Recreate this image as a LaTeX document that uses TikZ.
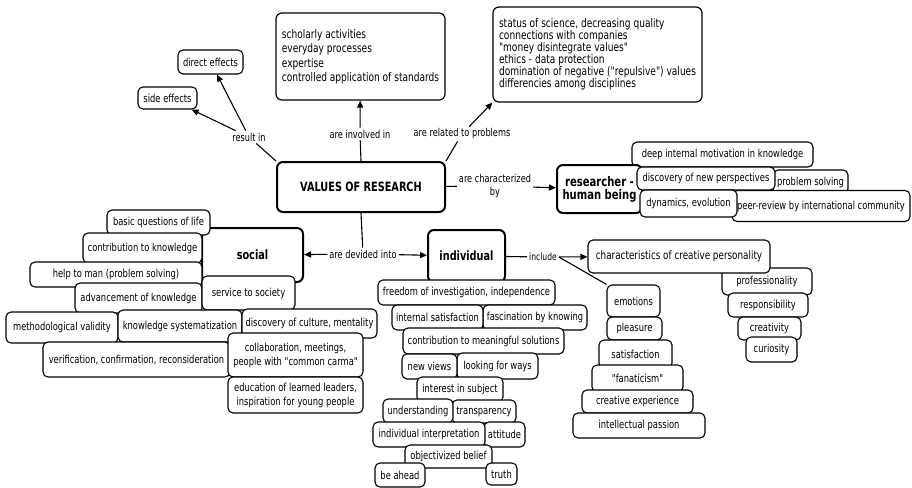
\documentclass[tikz,border=0pt]{standalone}
\usepackage{fontspec}
\newfontfamily\mf{DejaVu Sans}[FakeStretch=0.76]
\usetikzlibrary{arrows.meta}
\begin{document}
\begin{tikzpicture}[x=1pt,y=-1pt,
  bx/.style={draw, rounded corners=5pt, fill=white, line width=1.1pt, inner sep=0pt, align=center,
    font=\mf\fontsize{11}{13}\selectfont},
  tbx/.style={draw, rounded corners=6pt, fill=white, line width=1.2pt, inner sep=0pt, align=left,
    font=\mf\fontsize{11.9}{14.5}\selectfont},
  big/.style={draw, rounded corners=6pt, fill=white, line width=2pt, inner sep=0pt, align=center,
    font=\mf\bfseries\fontsize{12.8}{13}\selectfont},
  lbl/.style={inner sep=2pt, align=center, font=\mf\fontsize{10.8}{12.7}\selectfont},
  con/.style={line width=1.1pt},
  arr/.style={line width=1.1pt, -{Triangle[length=7pt,width=6pt]}}
]
\useasboundingbox (0,0) rectangle (912,487);

% top left
\node[bx, minimum width=65pt, minimum height=24pt] (direct) at (210.5,62) {direct effects};
\node[bx, minimum width=59pt, minimum height=22pt] (side) at (167.5,98) {side effects};

% top boxes
\node[tbx, minimum width=169pt, minimum height=87pt] (top1) at (360.5,56.5)
  {scholarly activities\\everyday processes\\expertise\\controlled application of standards};
\node[tbx, minimum width=209pt, minimum height=95pt, font=\mf\fontsize{11.9}{12}\selectfont] (top2) at (597.5,54.5)
  {status of science, decreasing quality\\connections with companies\\"money disintegrate values"\\ethics - data protection\\domination of negative ("repulsive") values\\differencies among disciplines};

% main
\node[big, minimum width=168pt, minimum height=50pt] (main) at (361,187) {VALUES OF RESEARCH};

% researcher group
\node[bx, minimum width=181pt, minimum height=25pt] (deep) at (722.5,154.5) {deep internal motivation in knowledge};
\node[big, minimum width=85pt, minimum height=48pt, font=\mf\bfseries\fontsize{13.2}{13}\selectfont] (res) at (599.5,189) {researcher -\\human being};
\node[bx, minimum width=75pt, minimum height=24pt] (prob) at (810.5,182) {problem solving};
\node[bx, minimum width=178pt, minimum height=31pt] (peer) at (821,206) {peer-review by international community};
\node[bx, minimum width=138pt, minimum height=23pt] (disc) at (706,178.5) {discovery of new perspectives};
\node[bx, minimum width=97pt, minimum height=27pt] (dyn) at (688.5,203.5) {dynamics, evolution};

% social group
\node[big, minimum width=101pt, minimum height=54pt] (social) at (252.5,255) {social};
\node[bx, minimum width=103pt, minimum height=25pt] (basic) at (158.5,222.5) {basic questions of life};
\node[bx, minimum width=119pt, minimum height=30pt] (contrib) at (142.5,248) {contribution to knowledge};
\node[bx, minimum width=172pt, minimum height=25pt] (help) at (116,274.5) {help to man (problem solving)};
\node[bx, minimum width=127pt, minimum height=30pt] (adv) at (138.5,298) {advancement of knowledge};
\node[bx, minimum width=93pt, minimum height=34pt] (service) at (248.5,293) {service to society};
\node[bx, minimum width=112pt, minimum height=31pt] (meth) at (62,327.5) {methodological validity};
\node[bx, minimum width=124pt, minimum height=32pt] (ksys) at (180,326) {knowledge systematization};
\node[bx, minimum width=135pt, minimum height=29pt] (cult) at (309.5,323.5) {discovery of culture, mentality};
\node[bx, minimum width=187pt, minimum height=35pt] (verif) at (136.5,359.5) {verification, confirmation, reconsideration};
\node[bx, minimum width=135pt, minimum height=44pt, font=\mf\fontsize{11}{14}\selectfont] (collab) at (295.5,355) {collaboration, meetings,\\people with "common carma"};
\node[bx, minimum width=135pt, minimum height=36pt, font=\mf\fontsize{11}{14}\selectfont] (edu) at (295.5,395) {education of learned leaders,\\inspiration for young people};

% individual group
\node[big, minimum width=77pt, minimum height=52pt] (indiv) at (466.5,256) {individual};
\node[bx, minimum width=177pt, minimum height=25pt] (free) at (466.5,292.5) {freedom of investigation, independence};
\node[bx, minimum width=104pt, minimum height=25pt] (fasc) at (535,317.5) {fascination by knowing};
\node[bx, minimum width=91pt, minimum height=25pt] (intsat) at (437.5,317.5) {internal satisfaction};
\node[bx, minimum width=161pt, minimum height=26pt] (contr) at (483.5,341) {contribution to meaningful solutions};
\node[bx, minimum width=81pt, minimum height=26pt] (look) at (497.5,366) {looking for ways};
\node[bx, minimum width=55pt, minimum height=25pt] (newv) at (429.5,366.5) {new views};
\node[bx, minimum width=86pt, minimum height=25pt] (inter) at (460,389.5) {interest in subject};
\node[bx, minimum width=64pt, minimum height=23pt] (transp) at (484,411.5) {transparency};
\node[bx, minimum width=70pt, minimum height=24pt] (under) at (418,411) {understanding};
\node[bx, minimum width=41pt, minimum height=25pt] (att) at (504.5,434.5) {attitude};
\node[bx, minimum width=112pt, minimum height=25pt] (indint) at (429,434.5) {individual interpretation};
\node[bx, minimum width=87pt, minimum height=23pt] (obj) at (448.5,456.5) {objectivized belief};
\node[bx, minimum width=50pt, minimum height=24pt] (ahead) at (400,475) {be ahead};
\node[bx, minimum width=31pt, minimum height=22pt] (truth) at (501.5,474) {truth};

% emotions column
\node[bx, minimum width=90pt, minimum height=27pt] (prof) at (767,281.5) {professionality};
\node[bx, minimum width=182pt, minimum height=33pt, font=\mf\fontsize{11.6}{13}\selectfont] (charac) at (679,256.5) {characteristics of creative personality};
\node[bx, minimum width=80pt, minimum height=24pt] (resp) at (768,305) {responsibility};
\node[bx, minimum width=63pt, minimum height=23pt] (creat) at (769.5,328.5) {creativity};
\node[bx, minimum width=51pt, minimum height=25pt] (curio) at (771.5,349.5) {curiosity};

\node[bx, minimum width=53pt, minimum height=32pt] (emot) at (633.5,301) {emotions};
\node[bx, minimum width=55pt, minimum height=23pt] (pleas) at (634.5,328.5) {pleasure};
\node[bx, minimum width=73pt, minimum height=28pt] (satis) at (635.5,354) {satisfaction};
\node[bx, minimum width=91pt, minimum height=27pt] (fanat) at (637.5,378.5) {"fanaticism"};
\node[bx, minimum width=111pt, minimum height=23pt] (creexp) at (637.5,401.5) {creative experience};
\node[bx, minimum width=132pt, minimum height=25pt] (intpas) at (639,425.5) {intellectual passion};

% linking phrases
\node[lbl] (resultin) at (249,137) {result in};
\node[lbl] (inv) at (360,134) {are involved in};
\node[lbl] (rel) at (462,134) {are related to problems};
\node[lbl] (charby) at (495,186) {are characterized\\by};
\node[lbl] (div) at (363,254) {are devided into};
\node[lbl, font=\mf\fontsize{10}{11}\selectfont] (inc) at (543,257) {include};

% connectors
\draw[con] (main.north west) -- (resultin);
\draw[arr] (resultin) -- (direct);
\draw[arr] (resultin) -- (side);
\draw[con] (main.north) -- (inv);
\draw[arr] (inv) -- (top1);
\draw[con] (main.north east) -- (rel);
\draw[arr] (rel) -- (top2.south west);
\draw[con] (main) -- (charby);
\draw[arr] (charby) -- (res);
\draw[con] (main.south) -- (div);
\draw[arr] (div) -- (social);
\draw[arr] (div) -- (indiv);
\draw[con] (indiv) -- (inc);
\draw[arr] (inc) -- (charac);
\draw[con] (inc.east) -- (emot.north west);
\end{tikzpicture}
\end{document}
